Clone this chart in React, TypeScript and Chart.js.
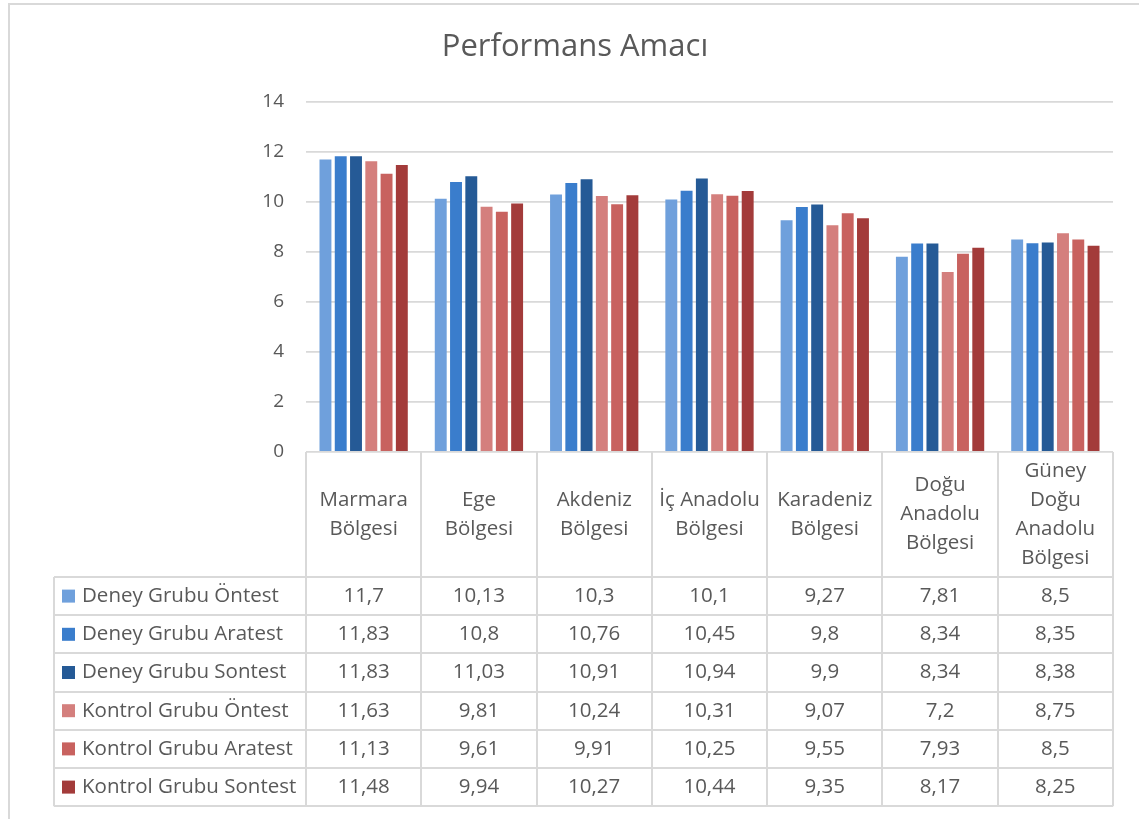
import React, { useEffect, useRef } from "react";
import { Chart, registerables } from "chart.js";

Chart.register(...registerables);

const TITLE = "Performans Amacı";

const categories: string[][] = [
  ["Marmara", "Bölgesi"],
  ["Ege", "Bölgesi"],
  ["Akdeniz", "Bölgesi"],
  ["İç Anadolu", "Bölgesi"],
  ["Karadeniz", "Bölgesi"],
  ["Doğu", "Anadolu", "Bölgesi"],
  ["Güney", "Doğu", "Anadolu", "Bölgesi"],
];

const seriesNames = [
  "Deney Grubu Öntest",
  "Deney Grubu Aratest",
  "Deney Grubu Sontest",
  "Kontrol Grubu Öntest",
  "Kontrol Grubu Aratest",
  "Kontrol Grubu Sontest",
];

const deneyOntest = [11.7, 10.13, 10.3, 10.1, 9.27, 7.81, 8.5];
const deneyAratest = [11.83, 10.8, 10.76, 10.45, 9.8, 8.34, 8.35];
const deneySontest = [11.83, 11.03, 10.91, 10.94, 9.9, 8.34, 8.38];
const kontrolOntest = [11.63, 9.81, 10.24, 10.31, 9.07, 7.2, 8.75];
const kontrolAratest = [11.13, 9.61, 9.91, 10.25, 9.55, 7.93, 8.5];
const kontrolSontest = [11.48, 9.94, 10.27, 10.44, 9.35, 8.17, 8.25];

const seriesValues = [deneyOntest, deneyAratest, deneySontest, kontrolOntest, kontrolAratest, kontrolSontest];
const seriesColors = ["#6fa0dc", "#3a7dcc", "#255a96", "#d47f7d", "#c8625f", "#a33b3a"];

const yTicks = [0, 2, 4, 6, 8, 10, 12, 14];

const FONT = "'Open Sans', 'Liberation Sans', sans-serif";
const TEXT = "#595959";
const LINE = "#d9d9d9";

const fmt = (v: number) => String(v).replace(".", ",");

const tablePlugin = {
  id: "dataTable",
  beforeDraw(chart: any) {
    const { ctx } = chart;
    ctx.save();
    ctx.fillStyle = "#ffffff";
    ctx.fillRect(0, 0, chart.width, chart.height);
    ctx.strokeStyle = LINE;
    ctx.lineWidth = 2;
    ctx.strokeRect(9, 4, chart.width + 20, chart.height + 20);
    ctx.restore();
  },
  afterDraw(chart: any) {
    const { ctx, chartArea } = chart;
    const x = chart.scales.x;
    const n = categories.length;
    const catW = (chartArea.right - chartArea.left) / n;
    const top = chartArea.bottom;
    const headerH = 125;
    const rowH = 38.2;
    const rowsTop = top + headerH;
    const bottom = rowsTop + rowH * seriesNames.length;
    const tableLeft = 54;

    ctx.save();
    // title
    ctx.fillStyle = TEXT;
    ctx.font = `400 31px ${FONT}`;
    ctx.textAlign = "center";
    ctx.textBaseline = "middle";
    ctx.fillText(TITLE, 575, 47);

    // lines
    ctx.strokeStyle = LINE;
    ctx.lineWidth = 2;
    ctx.beginPath();
    for (let i = 0; i <= n; i++) {
      const xe = Math.round(chartArea.left + catW * i);
      ctx.moveTo(xe, top);
      ctx.lineTo(xe, bottom);
    }
    ctx.moveTo(tableLeft, rowsTop);
    ctx.lineTo(tableLeft, bottom);
    for (let r = 0; r <= seriesNames.length; r++) {
      const y = Math.round(rowsTop + rowH * r);
      ctx.moveTo(tableLeft, y);
      ctx.lineTo(chartArea.right, y);
    }
    ctx.stroke();

    // headers
    ctx.fillStyle = TEXT;
    ctx.font = `20.5px ${FONT}`;
    ctx.textAlign = "center";
    ctx.textBaseline = "middle";
    const lh = 29;
    categories.forEach((lines, i) => {
      const cx = x.getPixelForValue(i);
      const cy = top + headerH / 2;
      const start = cy - ((lines.length - 1) * lh) / 2;
      lines.forEach((t, k) => ctx.fillText(t, cx, start + k * lh));
    });

    // rows
    seriesNames.forEach((name, r) => {
      const cy = rowsTop + rowH * r + rowH / 2;
      ctx.fillStyle = seriesColors[r];
      ctx.fillRect(62, cy - 6.5, 13, 13);
      ctx.fillStyle = TEXT;
      ctx.textAlign = "left";
      ctx.fillText(name, 82, cy);
      ctx.textAlign = "center";
      seriesValues[r].forEach((v, i) => {
        ctx.fillText(fmt(v), x.getPixelForValue(i), cy);
      });
    });
    ctx.restore();
  },
};

export default function App() {
  const ref = useRef<HTMLCanvasElement>(null);
  useEffect(() => {
    if (!ref.current) return;
    const chart = new Chart(ref.current, {
      type: "bar",
      data: {
        labels: categories.map((c) => c.join(" ")),
        datasets: seriesNames.map((name, i) => ({
          label: name,
          data: seriesValues[i],
          backgroundColor: seriesColors[i],
          borderWidth: 0,
          categoryPercentage: 0.795,
          barPercentage: 0.78,
        })),
      },
      options: {
        responsive: false,
        animation: false,
        layout: { padding: { left: 0, right: 26, top: 102, bottom: 367 } },
        plugins: { legend: { display: false }, tooltip: { enabled: false }, title: { display: false } },
        scales: {
          x: { display: false },
          y: {
            min: 0,
            max: 14,
            afterFit: (s: any) => {
              s.width = 306;
            },
            afterBuildTicks: (s: any) => {
              s.ticks = yTicks.map((v) => ({ value: v }));
            },
            border: { display: false },
            grid: { color: LINE, lineWidth: 1.8, drawTicks: false },
            ticks: {
              color: TEXT,
              padding: 22,
              font: { family: FONT, size: 19 },
            },
          },
        },
      },
      plugins: [tablePlugin],
    });
    return () => chart.destroy();
  }, []);
  return (
    <div style={{ position: "absolute", left: 0, top: 0 }}>
      <canvas ref={ref} width={1139} height={819} style={{ display: "block" }} />
    </div>
  );
}
